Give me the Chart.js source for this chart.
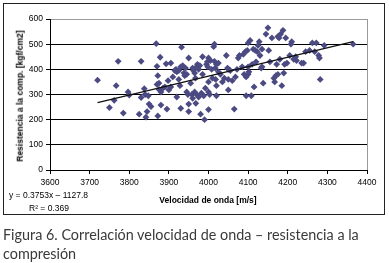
<!DOCTYPE html>
<html>
<head>
<meta charset="utf-8">
<script src="https://cdn.jsdelivr.net/npm/chart.js@4"></script>
<style>
  html,body{margin:0;padding:0;background:#fff;}
  body{width:389px;height:263px;position:relative;overflow:hidden;font-family:"Liberation Sans",Arial,sans-serif;}
  #box{position:absolute;left:3px;top:3px;width:380px;height:210px;border:1.6px solid #222;}
  #c{position:absolute;left:0;top:0;}
  .t{position:absolute;white-space:nowrap;color:#000;font-size:8.5px;line-height:1;}
  #xt{left:208px;top:200px;transform:translate(-50%,-50%);font-weight:bold;}
  #yt{left:20px;top:96px;transform:translate(-50%,-50%) rotate(-90deg);font-weight:bold;}
  #eq1{left:9px;top:191px;}
  #eq2{left:29px;top:204px;}
  .cap{position:absolute;left:3px;white-space:nowrap;color:#3a3a3a;font-family:Lato,"Open Sans",sans-serif;font-size:14px;line-height:1;}
  #cap1{top:228px;}
  #cap2{top:247px;}
</style>
</head>
<body>
<div id="box"></div>
<canvas id="c" width="389" height="263"></canvas>
<div class="t" id="xt">Velocidad de onda [m/s]</div>
<div class="t" id="yt">Resistencia a la comp. [kgf/cm2]</div>
<div class="t" id="eq1">y = 0.3753x – 1127.8</div>
<div class="t" id="eq2">R² = 0.369</div>
<div class="cap" id="cap1">Figura 6. Correlación velocidad de onda – resistencia a la</div>
<div class="cap" id="cap2">compresión</div>
<script>
// Wave velocity [m/s]
const velocity = [
3720,3750,3762,3767,3772,3785,3797,3800,3825,3830,3830,3838,3840,3842,3845,3848,3850,3855,
3868,3870,3870,3872,3872,3875,3875,3878,3880,3880,3885,3890,3893,3895,3898,3900,3905,3910,
3918,3920,3920,3925,3928,3930,3930,3932,3935,3940,3942,3945,3948,3950,3950,3950,3955,3958,
3960,3962,3965,3967,3968,3970,3970,3972,3975,3975,3980,3982,3985,3985,3988,3990,3992,3995,
3997,3998,4000,4000,4000,4000,4003,4005,4008,4010,4013,4015,4015,4017,4018,4020,4020,4020,
4025,4025,4030,4035,4040,4045,4048,4050,4050,4050,4055,4060,4065,4068,4072,4075,4078,4085,
4088,4090,4093,4095,4095,4098,4100,4100,4100,4102,4105,4108,4110,4113,4115,4118,4120,4123,
4125,4128,4130,4133,4135,4135,4138,4145,4150,4152,4155,4160,4165,4167,4170,4172,4175,4175,
4178,4180,4182,4185,4188,4190,4192,4195,4198,4205,4208,4210,4215,4220,4222,4235,4240,4245,
4255,4262,4268,4272,4278,4280,4282,4292,4365,
3915,3938,3960,3978,3905,3925,3945,3965
];
// Compressive strength [kgf/cm2]
const resistance = [
357,248,277,335,432,226,310,298,222,432,288,323,300,210,232,295,262,252,
502,412,340,375,215,345,320,448,310,258,325,330,422,242,355,318,425,370,
400,290,390,360,335,410,245,488,415,375,405,310,300,445,262,232,345,300,
285,395,310,365,265,410,300,420,400,290,222,305,450,380,295,200,325,420,
430,410,445,350,310,240,300,435,400,365,490,500,432,405,360,420,335,295,
425,390,380,350,365,455,405,400,360,318,395,355,242,370,400,445,455,410,
460,380,470,295,370,475,505,410,380,390,515,295,420,480,330,475,430,470,
495,510,455,405,410,480,345,540,565,475,430,525,365,350,375,420,530,380,
525,440,540,335,555,385,420,525,425,455,500,510,440,450,435,425,425,470,
475,505,470,505,455,445,360,495,500,
395,385,405,415,330,395,380,385
];
// Trend line endpoints
const trendX = [3720, 4365];
const trendY = [268, 510];
const xTicks = [3600,3700,3800,3900,4000,4100,4200,4300,4400];
const yTicks = [0,100,200,300,400,500,600];

const pts = velocity.map((v,i)=>({x:v,y:resistance[i]}));
const trend = trendX.map((v,i)=>({x:v,y:trendY[i]}));

new Chart(document.getElementById('c'), {
  type: 'scatter',
  data: {
    datasets: [
      {
        data: pts,
        pointStyle: 'rectRot',
        pointRadius: 3.4,
        backgroundColor: '#4b4a82',
        borderColor: '#4b4a82',
        borderWidth: 0,
        order: 2
      },
      {
        type: 'line',
        data: trend,
        borderColor: '#111',
        borderWidth: 1.3,
        pointRadius: 0,
        fill: false,
        order: 1
      }
    ]
  },
  options: {
    responsive: false,
    animation: false,
    events: [],
    layout: { padding: { top: 19, right: 22, left: 0, bottom: 0 } },
    plugins: { legend: { display: false }, tooltip: { enabled: false } },
    scales: {
      x: {
        type: 'linear',
        min: xTicks[0], max: xTicks[xTicks.length-1],
        afterBuildTicks: s => { s.ticks = xTicks.map(v=>({value:v})); },
        afterFit: s => { s.height = 93; },
        ticks: { color:'#000', font:{family:'"Liberation Sans", Arial', size:8.5}, padding:4, maxRotation:0, callback: v => String(v) },
        grid: {
          color: c => (c.tick && c.tick.value === 4400) ? '#9a9a9a' : 'rgba(0,0,0,0)',
          tickColor: '#000', tickLength: 4, lineWidth: 1
        },
        border: { color:'#000', width:1 }
      },
      y: {
        type: 'linear',
        min: yTicks[0], max: yTicks[yTicks.length-1],
        afterBuildTicks: s => { s.ticks = yTicks.map(v=>({value:v})); },
        afterFit: s => { s.width = 50; },
        ticks: { color:'#000', font:{family:'"Liberation Sans", Arial', size:8.5}, padding:3, callback: v => String(v) },
        grid: {
          color: c => (c.tick && c.tick.value === 600) ? '#9a9a9a' : '#000',
          tickColor: '#000', tickLength: 4, lineWidth: 1
        },
        border: { color:'#000', width:1 }
      }
    }
  }
});

// fit caption width
const c1 = document.getElementById('cap1'), c2 = document.getElementById('cap2');
const w = c1.getBoundingClientRect().width;
const fs = 14 * 356 / w;
c1.style.fontSize = fs + 'px';
c2.style.fontSize = fs + 'px';
</script>
</body>
</html>
